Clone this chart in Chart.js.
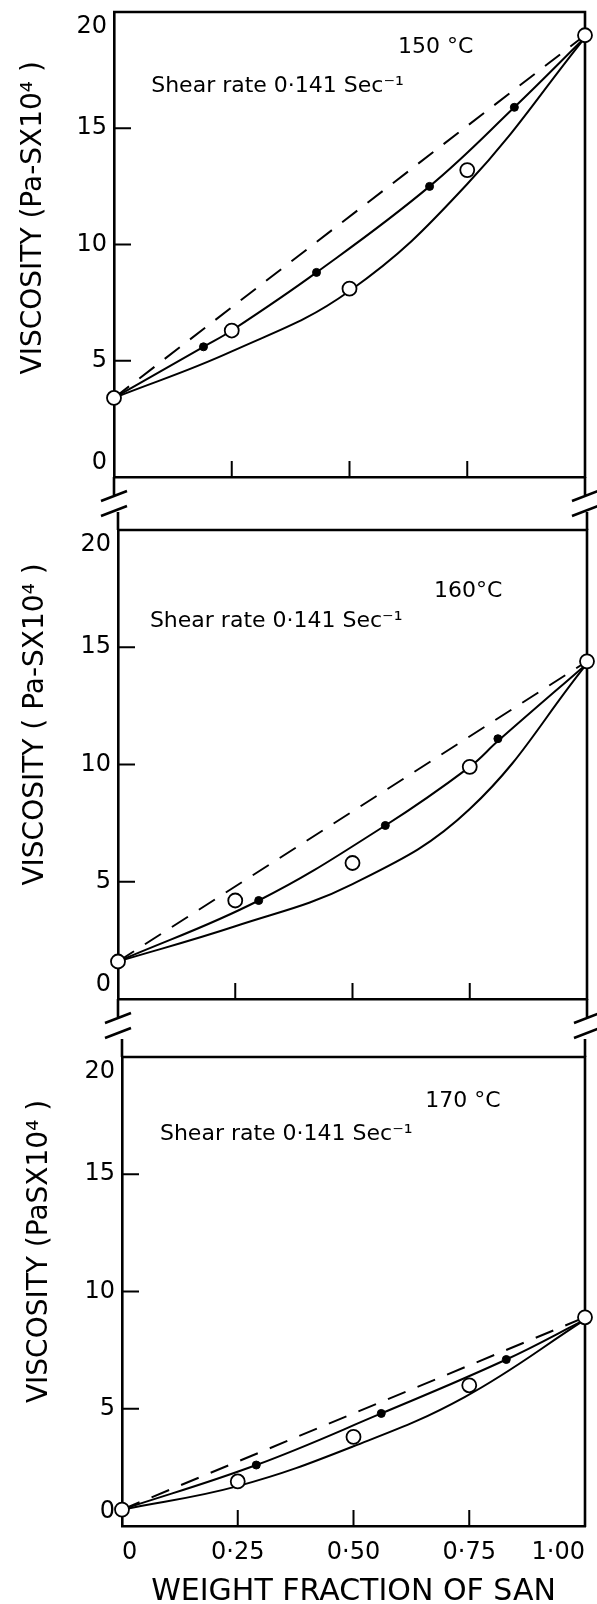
<!DOCTYPE html>
<html>
<head>
<meta charset="utf-8">
<script src="https://cdn.jsdelivr.net/npm/chart.js@4.4.0/dist/chart.umd.min.js"></script>
<style>
html, body { margin: 0; padding: 0; background: #fff; }
body { width: 597px; height: 1604px; position: relative; overflow: hidden; }
canvas { position: absolute; left: 0; }
</style>
</head>
<body>
<canvas id="c150"></canvas>
<canvas id="c160"></canvas>
<canvas id="c170"></canvas>
<script>
// weight fraction of SAN (x) and tick labels
var xOpen = [0, 0.25, 0.50, 0.75, 1.00];
var xTickLabels = ['0', '0·25', '0·50', '0·75', '1·00'];
var yTickLabels = ['0', '5', '10', '15', '20'];
var xDashed = [0, 1.00];

// 150 °C
var open150 = [3.4, 6.3, 8.1, 13.2, 19.0];
var xFilled150 = [0.19, 0.43, 0.67, 0.85];
var filled150 = [5.6, 8.8, 12.5, 15.9];
var xUpper150 = [0, 0.19, 0.25, 0.43, 0.67, 0.85, 1.00];
var upper150 = [3.4, 5.6, 6.3, 8.8, 12.5, 15.9, 18.9];
var xLower150 = [0, 0.25, 0.50, 0.75, 1.00];
var lower150 = [3.4, 5.4, 8.0, 12.6, 18.9];
var dashed150 = [3.4, 19.0];

// 160 °C
var open160 = [1.6, 4.2, 5.8, 9.9, 14.4];
var xFilled160 = [0.30, 0.57, 0.81];
var filled160 = [4.2, 7.4, 11.1];
var xUpper160 = [0, 0.30, 0.57, 0.75, 0.81, 1.00];
var upper160 = [1.6, 4.2, 7.4, 9.9, 11.0, 14.3];
var xLower160 = [0, 0.25, 0.50, 0.75, 1.00];
var lower160 = [1.6, 3.1, 4.9, 8.1, 14.3];
var dashed160 = [1.6, 14.4];

// 170 °C
var open170 = [0.7, 1.9, 3.8, 6.0, 8.9];
var xFilled170 = [0.29, 0.56, 0.83];
var filled170 = [2.6, 4.8, 7.1];
var xUpper170 = [0, 0.29, 0.56, 0.83, 1.00];
var upper170 = [0.7, 2.6, 4.8, 7.1, 8.8];
var xLower170 = [0, 0.25, 0.50, 0.74, 1.00];
var lower170 = [0.7, 1.7, 3.4, 5.5, 8.8];
var dashed170 = [0.7, 8.9];

var FONT = '"DejaVu Sans", "Liberation Sans", sans-serif';
var PAD_TOP = 40, X_AXIS_H = 84, PAGE_W = 597;

function pts(xs, ys) {
	var out = [];
	for (let i = 0; i < xs.length; i++) out.push({x: xs[i], y: ys[i]});
	return out;
}

// box border, inward ticks and the // breaks between panels
var framePlugin = {
	id: 'frame',
	beforeDatasetsDraw: function (chart, args, opts) {
		var ctx = chart.ctx, a = chart.chartArea;
		var xs = chart.scales.x, ys = chart.scales.y;
		ctx.save();
		ctx.strokeStyle = '#000';
		ctx.lineWidth = 2.6;
		ctx.beginPath();
		ctx.moveTo(a.left - 1, a.top);
		ctx.lineTo(a.right, a.top);
		ctx.lineTo(a.right, a.bottom + 1);
		ctx.stroke();

		ctx.lineWidth = 2;
		ctx.beginPath();
		ys.ticks.forEach(function (t) {
			if (t.value > ys.min && t.value < ys.max) {
				var y = ys.getPixelForValue(t.value);
				ctx.moveTo(a.left, y);
				ctx.lineTo(a.left + 17, y);
			}
		});
		xs.ticks.forEach(function (t) {
			if (t.value > xs.min && t.value < xs.max) {
				var x = xs.getPixelForValue(t.value);
				ctx.moveTo(x, a.bottom);
				ctx.lineTo(x, a.bottom - 16);
			}
		});
		ctx.stroke();

		ctx.lineWidth = 2.6;
		ctx.beginPath();
		[a.left, a.right].forEach(function (x) {
			if (opts.breakBelow) {
				ctx.moveTo(x, a.bottom);
				ctx.lineTo(x, a.bottom + 19);
				ctx.moveTo(x - 13, a.bottom + 24);
				ctx.lineTo(x + 13, a.bottom + 14);
				ctx.moveTo(x - 13, a.bottom + 39);
				ctx.lineTo(x + 13, a.bottom + 29);
			}
			if (opts.breakAbove) {
				ctx.moveTo(x, a.top - 18);
				ctx.lineTo(x, a.top);
			}
		});
		ctx.stroke();
		ctx.restore();
	}
};

// text notes placed in data units
var notePlugin = {
	id: 'notes',
	afterDatasetsDraw: function (chart, args, opts) {
		var ctx = chart.ctx, xs = chart.scales.x, ys = chart.scales.y;
		ctx.save();
		ctx.fillStyle = '#000';
		ctx.textAlign = 'left';
		ctx.textBaseline = 'middle';
		opts.items.forEach(function (it) {
			ctx.font = it.size + 'px ' + FONT;
			ctx.fillText(it.text, xs.getPixelForValue(it.x), ys.getPixelForValue(it.y));
		});
		ctx.restore();
	}
};

var panels = [
	{id: 'c150', box: {left: 114, top: 12, right: 585, bottom: 477},
	 open: open150, xFilled: xFilled150, filled: filled150,
	 xUpper: xUpper150, upper: upper150, xLower: xLower150, lower: lower150, dashed: dashed150,
	 yTitle: '\u00a0\u00a0\u00a0\u00a0\u00a0\u00a0VISCOSITY (Pa-SX10\u2074 )', titleX: 34,
	 notes: [{text: 'Shear rate 0·141 Sec\u207b\u00b9', x: 0.079, y: 16.8, size: 22},
	         {text: '150 °C', x: 0.603, y: 18.5, size: 22}],
	 showX: false, breakBelow: true, breakAbove: false},
	{id: 'c160', box: {left: 118, top: 530, right: 587, bottom: 999},
	 open: open160, xFilled: xFilled160, filled: filled160,
	 xUpper: xUpper160, upper: upper160, xLower: xLower160, lower: lower160, dashed: dashed160,
	 yTitle: '\u00a0\u00a0\u00a0\u00a0\u00a0\u00a0\u00a0\u00a0\u00a0VISCOSITY ( Pa-SX10\u2074 )', titleX: 36,
	 notes: [{text: 'Shear rate 0·141 Sec\u207b\u00b9', x: 0.068, y: 16.1, size: 22},
	         {text: '160°C', x: 0.674, y: 17.4, size: 22}],
	 showX: false, breakBelow: true, breakAbove: true},
	{id: 'c170', box: {left: 122, top: 1057, right: 595, bottom: 1526},
	 open: open170, xFilled: xFilled170, filled: filled170,
	 xUpper: xUpper170, upper: upper170, xLower: xLower170, lower: lower170, dashed: dashed170,
	 yTitle: '\u00a0\u00a0\u00a0\u00a0\u00a0\u00a0\u00a0\u00a0\u00a0VISCOSITY (PaSX10\u2074 )', titleX: 40,
	 notes: [{text: 'Shear rate 0·141 Sec\u207b\u00b9', x: 0.082, y: 16.7, size: 22},
	         {text: '170 °C', x: 0.655, y: 18.1, size: 22}],
	 showX: true, breakBelow: false, breakAbove: true}
];

panels.forEach(function (p) {
	var cv = document.getElementById(p.id);
	var h = p.box.bottom - p.box.top + PAD_TOP + X_AXIS_H;
	cv.width = PAGE_W;
	cv.height = h;
	cv.style.width = PAGE_W + 'px';
	cv.style.height = h + 'px';
	cv.style.top = (p.box.top - PAD_TOP) + 'px';

	var curve = {
		showLine: true, pointRadius: 0, borderColor: '#000', borderWidth: 2,
		tension: 0.4, clip: false
	};

	new Chart(cv, {
		type: 'scatter',
		data: {
			datasets: [{
				data: pts(xOpen, p.open),
				showLine: false, pointRadius: 7, pointBorderWidth: 1.8,
				pointBackgroundColor: '#fff', pointBorderColor: '#000', clip: false
			}, {
				data: pts(p.xFilled, p.filled),
				showLine: false, pointRadius: 4, pointBorderWidth: 1,
				pointBackgroundColor: '#000', pointBorderColor: '#000', clip: false
			},
			Object.assign({data: pts(p.xUpper, p.upper)}, curve),
			Object.assign({data: pts(p.xLower, p.lower)}, curve),
			{
				data: pts(xDashed, p.dashed),
				showLine: true, pointRadius: 0, borderColor: '#000', borderWidth: 2,
				borderDash: [19, 13], clip: false
			}]
		},
		options: {
			responsive: false,
			animation: false,
			devicePixelRatio: 1,
			layout: {padding: {top: PAD_TOP, right: PAGE_W - p.box.right, left: 0, bottom: 0}},
			plugins: {
				legend: {display: false},
				tooltip: {enabled: false},
				frame: {breakBelow: p.breakBelow, breakAbove: p.breakAbove},
				notes: {items: p.notes}
			},
			scales: {
				x: {
					type: 'linear', min: 0, max: 1,
					grid: {display: false, drawTicks: false},
					border: {display: true, width: 2.6, color: '#000'},
					ticks: {
						display: p.showX, stepSize: 0.25, align: 'inner', padding: 12,
						maxRotation: 0, autoSkip: false, color: '#000',
						font: {family: FONT, size: 24},
						callback: function (v, i) { return xTickLabels[i]; }
					},
					title: {
						display: p.showX, text: 'WEIGHT FRACTION OF SAN', color: '#000',
						font: {family: FONT, size: 30}, padding: 0
					},
					afterFit: function (s) { s.height = X_AXIS_H; }
				},
				y: {
					type: 'linear', min: 0, max: 20,
					grid: {display: false, drawTicks: false},
					border: {display: true, width: 2.6, color: '#000'},
					ticks: {
						stepSize: 5, padding: 7, color: '#000',
						font: {family: FONT, size: 24},
						// end labels sit inside the box, as in the original
						callback: function (v, i, all) {
							var s = yTickLabels[i];
							if (i === 0) return [s, ''];
							if (i === all.length - 1) return ['', s];
							return s;
						}
					},
					title: {
						display: true, text: p.yTitle, color: '#000',
						font: {family: FONT, size: 28},
						padding: {top: p.titleX - 17, bottom: 0}
					},
					afterFit: function (s) { s.width = p.box.left; }
				}
			}
		},
		plugins: [framePlugin, notePlugin]
	});
});
</script>
</body>
</html>
